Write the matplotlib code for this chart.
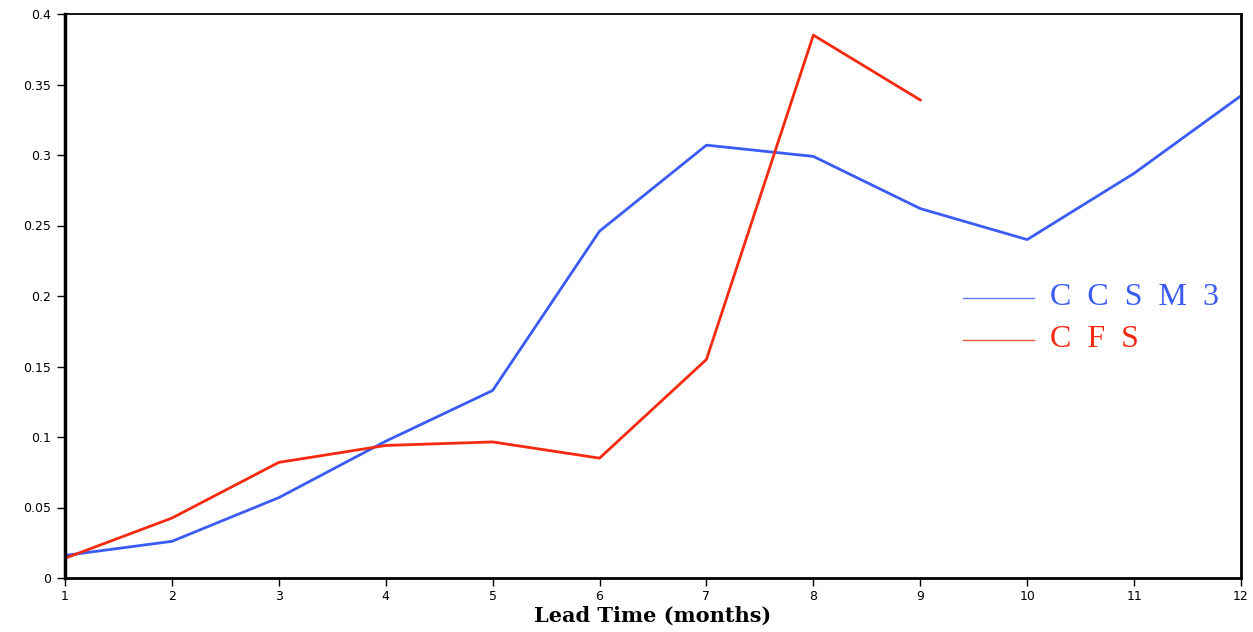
import numpy as np
import matplotlib
matplotlib.use("Agg")
import matplotlib.pyplot as plt

# lead times and scores
lead = [1, 2, 3, 4, 5, 6, 7, 8, 9, 10, 11, 12]
ccsm3 = [0.016, 0.026, 0.057, 0.097, 0.133, 0.246, 0.307, 0.299, 0.262, 0.240, 0.287, 0.342]
cfs_lead = [1, 2, 3, 4, 5, 6, 7, 8, 9]
cfs = [0.014, 0.0425, 0.082, 0.094, 0.0965, 0.085, 0.155, 0.385, 0.339]
yticks = [0, 0.05, 0.1, 0.15, 0.2, 0.25, 0.3, 0.35, 0.4]
yticklabels = ["0", "0.05", "0.1", "0.15", "0.2", "0.25", "0.3", "0.35", "0.4"]

blue = "#3a5cf5"
red = "#f52a10"

fig = plt.figure(figsize=(12.53, 6.32), dpi=100)
ax = fig.add_axes([65 / 1253, 1 - 578 / 632, (1241 - 65) / 1253, (578 - 14) / 632])

ax.plot(lead, ccsm3, color=blue, lw=2)
ax.plot(cfs_lead, cfs, color=red, lw=2)

ax.set_xlim(1, 12)
ax.set_ylim(0, 0.4)
ax.set_xticks(lead)
ax.set_yticks(yticks)
ax.set_yticklabels(yticklabels)
ax.tick_params(direction="out", length=6, width=1, labelsize=9, colors="black", pad=3)
ax.tick_params(axis="y", pad=4)

ax.spines["left"].set_linewidth(2.5)
ax.spines["bottom"].set_linewidth(2)
ax.spines["top"].set_linewidth(1.3)
ax.spines["right"].set_linewidth(2)

ax.set_xlabel("Lead Time (months)", family="DejaVu Serif", fontweight="bold", fontsize=15, labelpad=2)

# legend drawn by hand (lines + spaced serif labels)
ax.plot([0.764, 0.824], [0.497, 0.497], transform=ax.transAxes, color=blue, lw=1, alpha=0.8)
ax.plot([0.764, 0.824], [0.422, 0.422], transform=ax.transAxes, color=red, lw=1, alpha=0.8)
ax.text(0.838, 0.497, "C  C  S  M  3", transform=ax.transAxes, color=blue,
        family="Liberation Serif", fontsize=23, va="center")
ax.text(0.838, 0.422, "C  F  S", transform=ax.transAxes, color=red,
        family="Liberation Serif", fontsize=23, va="center")

fig.savefig("out.png", dpi=100)
